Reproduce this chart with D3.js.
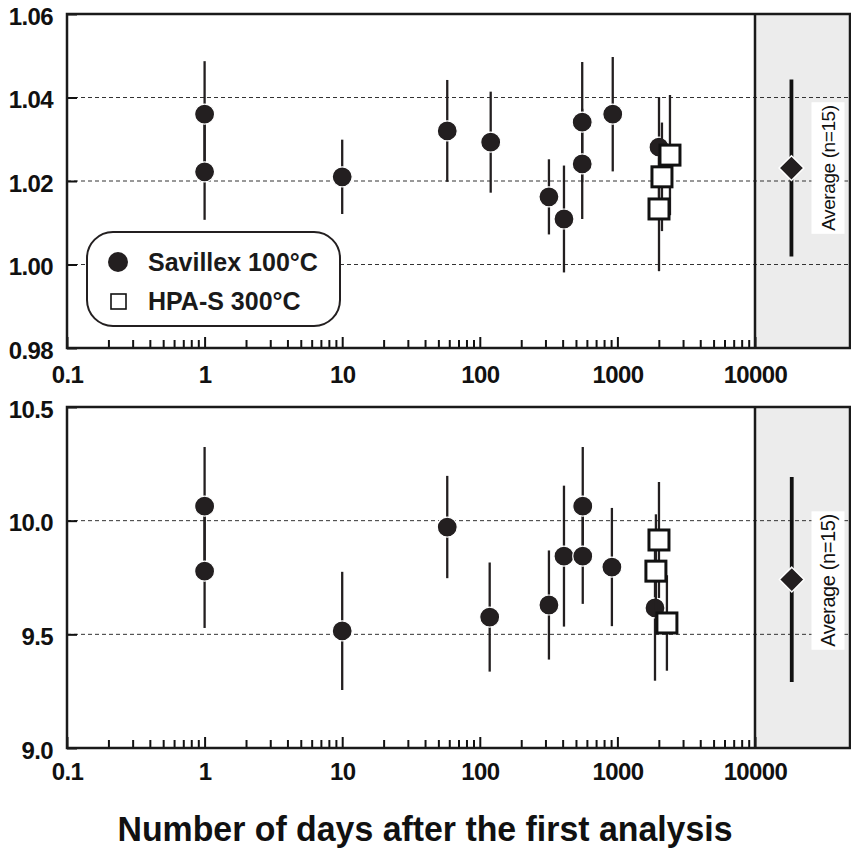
<!DOCTYPE html>
<html lang="en">
<head>
<meta charset="UTF-8">
<title>Ratio vs number of days after the first analysis</title>
<script src="https://d3js.org/d3.v7.min.js"></script>
<style>
    body {
        margin: 0;
        background: #fff;
    }
    svg {
        display: block;
        font-family: "Liberation Sans", Arial, Helvetica, sans-serif;
    }
    .tick text {
        font-size: 24px;
        font-weight: bold;
        letter-spacing: -0.6px;
        fill: #111;
    }
    .tick line {
        stroke: #111;
        stroke-width: 2;
    }
    .grid {
        stroke: #333;
        stroke-width: 1;
        stroke-dasharray: 4 3;
    }
    .frame {
        fill: none;
        stroke: #1a1a1a;
        stroke-width: 2.5;
    }
    .err {
        stroke: #231f20;
        stroke-width: 2.3;
    }
    .avg-err {
        stroke: #111;
        stroke-width: 3.8;
    }
    .legend-text {
        font-size: 25px;
        font-weight: bold;
        fill: #1a1a1a;
    }
</style>
</head>
<body>
<div id="chart"></div>

<script>
// ---- data: upper panel ----
const topSavDays   = [1, 1, 10, 58, 120, 318, 409, 555, 555, 925, 2006];
const topSavValues = [1.0360, 1.0222, 1.0210, 1.0320, 1.0293, 1.0162, 1.0109, 1.0341, 1.0241, 1.0360, 1.0281];
const topSavErrors = [0.0127, 0.0115, 0.0089, 0.0122, 0.0121, 0.0090, 0.0128, 0.0144, 0.0132, 0.0137, 0.0120];

const topHpaDays   = [2410, 2108, 2006];
const topHpaValues = [1.0262, 1.0210, 1.0133];
const topHpaErrors = [0.0144, 0.0130, 0.0149];

const topAvgDay = 18400, topAvgValue = 1.0231, topAvgError = 0.0212;

// ---- data: lower panel ----
const botSavDays   = [1, 1, 10, 58, 118, 318, 409, 560, 560, 912, 1876];
const botSavValues = [10.064, 9.778, 9.515, 9.972, 9.576, 9.629, 9.844, 10.064, 9.844, 9.796, 9.616];
const botSavErrors = [0.26, 0.25, 0.26, 0.225, 0.24, 0.24, 0.31, 0.26, 0.21, 0.26, 0.32];

const botHpaDays   = [2005, 1905, 2290];
const botHpaValues = [9.915, 9.778, 9.550];
const botHpaErrors = [0.255, 0.25, 0.21];

const botAvgDay = 18500, botAvgValue = 9.741, botAvgError = 0.451;

// ---- axes ----
const xTickValues = [0.1, 1, 10, 100, 1000, 10000];
const xTickLabels = ["0.1", "1", "10", "100", "1000", "10000"];

const topYTicks  = [0.98, 1.00, 1.02, 1.04, 1.06];
const topYLabels = ["0.98", "1.00", "1.02", "1.04", "1.06"];
const topGrid    = [1.00, 1.02, 1.04];

const botYTicks  = [9.0, 9.5, 10.0, 10.5];
const botYLabels = ["9.0", "9.5", "10.0", "10.5"];
const botGrid    = [9.5, 10.0];

const avgLabel = "Average (n=15)";
const legendNames = ["Savillex 100°C", "HPA-S 300°C"];
const xTitle = "Number of days after the first analysis";

const W = 851, H = 856;
const left = 67, plotRight = 755, bandRight = 850;

const svg = d3.select("#chart")
    .append("svg")
    .attr("width", W)
    .attr("height", H);

const x = d3.scaleLog()
    .domain([0.1, 10000])
    .range([left, plotRight]);

const zip = (days, vals, errs) => days.map((d, i) => ({ day: d, value: vals[i], err: errs[i] }));

function drawPanel(p) {
    const y = d3.scaleLinear().domain(p.yDomain).range([p.bottom, p.top]);
    const g = svg.append("g");

    // grey band for the average
    g.append("rect")
        .attr("x", x(10000))
        .attr("y", p.top)
        .attr("width", bandRight - x(10000))
        .attr("height", p.bottom - p.top)
        .attr("fill", "#ececec");

    g.selectAll(".grid")
        .data(p.grid)
        .enter()
        .append("line")
        .attr("class", "grid")
        .attr("x1", left)
        .attr("x2", bandRight)
        .attr("y1", d => y(d))
        .attr("y2", d => y(d));

    // minor ticks
    const minor = x.ticks().filter(t => !xTickValues.some(v => Math.abs(v - t) < 1e-9));
    g.append("g")
        .attr("transform", `translate(0,${p.bottom})`)
        .call(d3.axisBottom(x).tickValues(minor).tickSize(-8).tickFormat(""))
        .call(a => a.select(".domain").remove());

    // major ticks with labels
    g.append("g")
        .attr("transform", `translate(0,${p.bottom})`)
        .call(d3.axisBottom(x).tickValues(xTickValues).tickSize(-11).tickPadding(p.xPad)
            .tickFormat((d, i) => xTickLabels[i]))
        .call(a => a.select(".domain").remove());

    g.append("g")
        .attr("transform", `translate(${left},0)`)
        .call(d3.axisLeft(y).tickValues(p.yTicks).tickSize(-10).tickPadding(14)
            .tickFormat((d, i) => p.yLabels[i]))
        .call(a => a.select(".domain").remove())
        .selectAll("text")
        .attr("dy", "0.42em");

    // frame + divider
    g.append("rect")
        .attr("class", "frame")
        .attr("x", left)
        .attr("y", p.top)
        .attr("width", bandRight - left)
        .attr("height", p.bottom - p.top);
    g.append("line")
        .attr("class", "frame")
        .attr("x1", x(10000)).attr("x2", x(10000))
        .attr("y1", p.top).attr("y2", p.bottom);

    const sav = zip(p.savDays, p.savValues, p.savErrors);
    const hpa = zip(p.hpaDays, p.hpaValues, p.hpaErrors);

    g.selectAll(".err-sav")
        .data(sav)
        .enter()
        .append("line")
        .attr("class", "err")
        .attr("x1", d => x(d.day)).attr("x2", d => x(d.day))
        .attr("y1", d => y(d.value - d.err))
        .attr("y2", d => y(d.value + d.err));

    g.selectAll(".dot")
        .data(sav)
        .enter()
        .append("circle")
        .attr("cx", d => x(d.day))
        .attr("cy", d => y(d.value))
        .attr("r", 10)
        .attr("fill", "#231f20")
        .attr("stroke", "#fff")
        .attr("stroke-width", 1.2);

    g.selectAll(".err-hpa")
        .data(hpa)
        .enter()
        .append("line")
        .attr("class", "err")
        .attr("x1", d => x(d.day)).attr("x2", d => x(d.day))
        .attr("y1", d => y(d.value - d.err))
        .attr("y2", d => y(d.value + d.err));

    g.selectAll(".sq")
        .data(hpa)
        .enter()
        .append("rect")
        .attr("x", d => x(d.day) - 10)
        .attr("y", d => y(d.value) - 10)
        .attr("width", 20)
        .attr("height", 20)
        .attr("fill", "#fff")
        .attr("stroke", "#111")
        .attr("stroke-width", 3);

    // average
    const ax = x(p.avgDay);
    g.append("line")
        .attr("class", "avg-err")
        .attr("x1", ax).attr("x2", ax)
        .attr("y1", y(p.avgValue - p.avgError))
        .attr("y2", y(p.avgValue + p.avgError));
    g.append("path")
        .attr("d", d3.symbol(d3.symbolDiamond2, 390)())
        .attr("transform", `translate(${ax},${y(p.avgValue)})`)
        .attr("fill", "#231f20")
        .attr("stroke", "#fff")
        .attr("stroke-width", 1.5);

    const lab = g.append("g")
        .attr("transform", `translate(828,${y(p.avgValue) + p.labShift}) rotate(-90)`);
    const box = lab.append("rect").attr("fill", "#fff");
    const t = lab.append("text")
        .attr("text-anchor", "middle")
        .attr("dy", "0.36em")
        .style("font-size", p.labSize + "px")
        .style("letter-spacing", "-0.4px")
        .style("fill", "#111")
        .text(avgLabel);
    const bb = t.node().getBBox();
    box.attr("x", bb.x - 3).attr("y", -16.5).attr("width", bb.width + 6).attr("height", 33);
}

drawPanel({
    top: 14, bottom: 348, yDomain: [0.98, 1.06], xPad: 18, labSize: 19, labShift: 0,
    yTicks: topYTicks, yLabels: topYLabels, grid: topGrid,
    savDays: topSavDays, savValues: topSavValues, savErrors: topSavErrors,
    hpaDays: topHpaDays, hpaValues: topHpaValues, hpaErrors: topHpaErrors,
    avgDay: topAvgDay, avgValue: topAvgValue, avgError: topAvgError
});

drawPanel({
    top: 407, bottom: 748, yDomain: [9.0, 10.5], xPad: 15, labSize: 20, labShift: 1,
    yTicks: botYTicks, yLabels: botYLabels, grid: botGrid,
    savDays: botSavDays, savValues: botSavValues, savErrors: botSavErrors,
    hpaDays: botHpaDays, hpaValues: botHpaValues, hpaErrors: botHpaErrors,
    avgDay: botAvgDay, avgValue: botAvgValue, avgError: botAvgError
});

// legend
const legend = svg.append("g").attr("transform", "translate(87,232)");
legend.append("rect")
    .attr("width", 253)
    .attr("height", 94)
    .attr("rx", 26)
    .attr("fill", "#fff")
    .attr("stroke", "#231f20")
    .attr("stroke-width", 2);
legend.append("circle")
    .attr("cx", 31).attr("cy", 30).attr("r", 10)
    .attr("fill", "#231f20");
legend.append("rect")
    .attr("x", 24).attr("y", 62).attr("width", 15).attr("height", 15)
    .attr("fill", "#fff").attr("stroke", "#111").attr("stroke-width", 1.6);
legendNames.forEach((name, i) => {
    legend.append("text")
        .attr("class", "legend-text")
        .attr("x", 61)
        .attr("y", 39 + i * 39)
        .text(name);
});

svg.append("text")
    .attr("x", 425)
    .attr("y", 841)
    .attr("text-anchor", "middle")
    .attr("textLength", 615)
    .attr("lengthAdjust", "spacingAndGlyphs")
    .style("font-size", "35px")
    .style("font-weight", "bold")
    .style("fill", "#111")
    .text(xTitle);
</script>
</body>
</html>
